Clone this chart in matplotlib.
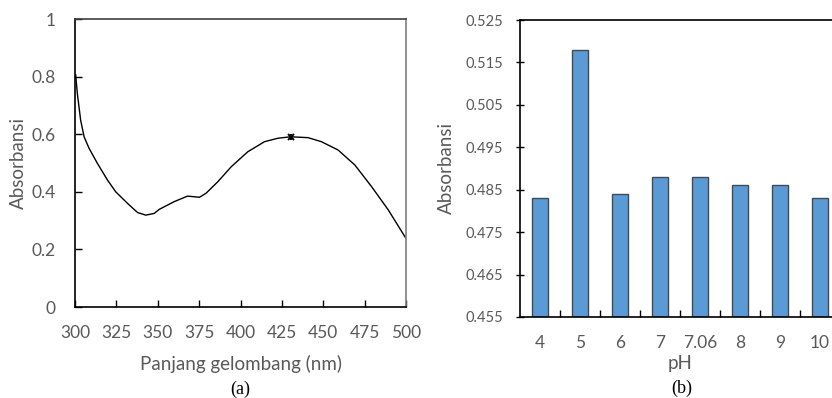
import matplotlib
matplotlib.use("Agg")
import matplotlib.pyplot as plt
import numpy as np

# Panel (a): absorption spectrum
wavelength = [300.4, 301.4, 303.4, 305.5, 308.5, 313.5, 319.6, 324.6, 331.7, 337.8,
              342.8, 347.9, 350.9, 360, 368, 375.2, 379.2, 386.3, 394.4, 404.4,
              414.5, 422.6, 430.3, 440.8, 448.9, 459, 469.1, 479.2, 489.3, 500]
absorbance = [0.806, 0.742, 0.649, 0.591, 0.551, 0.499, 0.441, 0.400, 0.360, 0.328,
              0.319, 0.325, 0.339, 0.366, 0.385, 0.381, 0.395, 0.435, 0.487, 0.539,
              0.574, 0.586, 0.591, 0.588, 0.574, 0.545, 0.493, 0.418, 0.337, 0.238]
peak_wl = 430.3
peak_abs = 0.591

# Panel (b): absorbance vs pH
ph_labels = ["4", "5", "6", "7", "7.06", "8", "9", "10"]
ph_abs = [0.483, 0.518, 0.484, 0.488, 0.488, 0.486, 0.486, 0.483]

W, H = 832, 398
fig = plt.figure(figsize=(W / 100, H / 100), dpi=100)
grey = "#595959"
tick_font = "Lato"

# ---- left panel
ax1 = fig.add_axes([75 / W, (H - 307) / H, (406 - 75) / W, (307 - 19) / H])
ax1.plot(wavelength, absorbance, color="black", lw=1.0)
ax1.plot([peak_wl], [peak_abs], marker="x", color="black", ms=4.5, mew=1.4)
ax1.plot([peak_wl], [peak_abs], marker="|", color="black", ms=4.5, mew=1.4)
ax1.set_xlim(300, 500)
ax1.set_ylim(0, 1)
ax1.set_xticks(np.arange(300, 501, 25))
ax1.set_yticks([0, 0.2, 0.4, 0.6, 0.8, 1])
ax1.set_yticklabels(["0", "0.2", "0.4", "0.6", "0.8", "1"])
ax1.tick_params(direction="in", length=5, width=1, colors="black",
                labelcolor=grey, labelsize=12.5, pad=14)
ax1.tick_params(axis="x", pad=13)
for lab in ax1.get_xticklabels() + ax1.get_yticklabels():
    lab.set_fontfamily(tick_font)
for s in ax1.spines.values():
    s.set_linewidth(1.2)
    s.set_color("black")
ax1.spines["right"].set_color("#7f7f7f")
ax1.spines["top"].set_color("#404040")
ax1.set_xlabel("Panjang gelombang (nm)", fontsize=13.5, color=grey,
               fontfamily=tick_font, labelpad=10)
ax1.set_ylabel("Absorbansi", fontsize=13.5, color=grey,
               fontfamily=tick_font, labelpad=3)
fig.text(240 / W, 1 - 389 / H, "(a)", ha="center", va="center",
         fontsize=13, fontfamily="Liberation Serif")

# ---- right panel (extends past the figure edge, as in the source crop)
ax2 = fig.add_axes([520 / W, (H - 317) / H, 320 / W, (317 - 20) / H])
pos = np.arange(len(ph_labels))
ax2.bar(pos, [v - 0.455 for v in ph_abs], bottom=0.455, width=0.4,
        color="#5B9BD5", edgecolor="#404a55", linewidth=1.0)
ax2.set_xlim(-0.5, len(ph_labels) - 0.5)
ax2.set_ylim(0.455, 0.525)
ax2.set_yticks(np.arange(0.455, 0.5251, 0.01))
ax2.set_yticklabels([f"{v:.3f}" for v in np.arange(0.455, 0.5251, 0.01)])
ax2.set_xticks(pos)
ax2.set_xticklabels(ph_labels)
ax2.set_xticks(np.arange(0.5, len(ph_labels) - 0.5, 1), minor=True)
ax2.tick_params(axis="x", which="major", length=0, pad=13,
                labelcolor=grey, labelsize=12.5)
ax2.tick_params(axis="x", which="minor", direction="in", length=5, width=1)
ax2.tick_params(axis="y", direction="inout", length=6, width=1,
                labelcolor=grey, labelsize=10.5, pad=9)
for lab in ax2.get_xticklabels() + ax2.get_yticklabels():
    lab.set_fontfamily(tick_font)
for s in ax2.spines.values():
    s.set_linewidth(1.2)
    s.set_color("black")
ax2.set_xlabel("pH", fontsize=13.5, color=grey, fontfamily=tick_font, labelpad=3)
ax2.set_ylabel("Absorbansi", fontsize=13.5, color=grey,
               fontfamily=tick_font, labelpad=8)
fig.text(682 / W, 1 - 388 / H, "(b)", ha="center", va="center",
         fontsize=13, fontfamily="Liberation Serif")

fig.savefig("out.png", dpi=100)
